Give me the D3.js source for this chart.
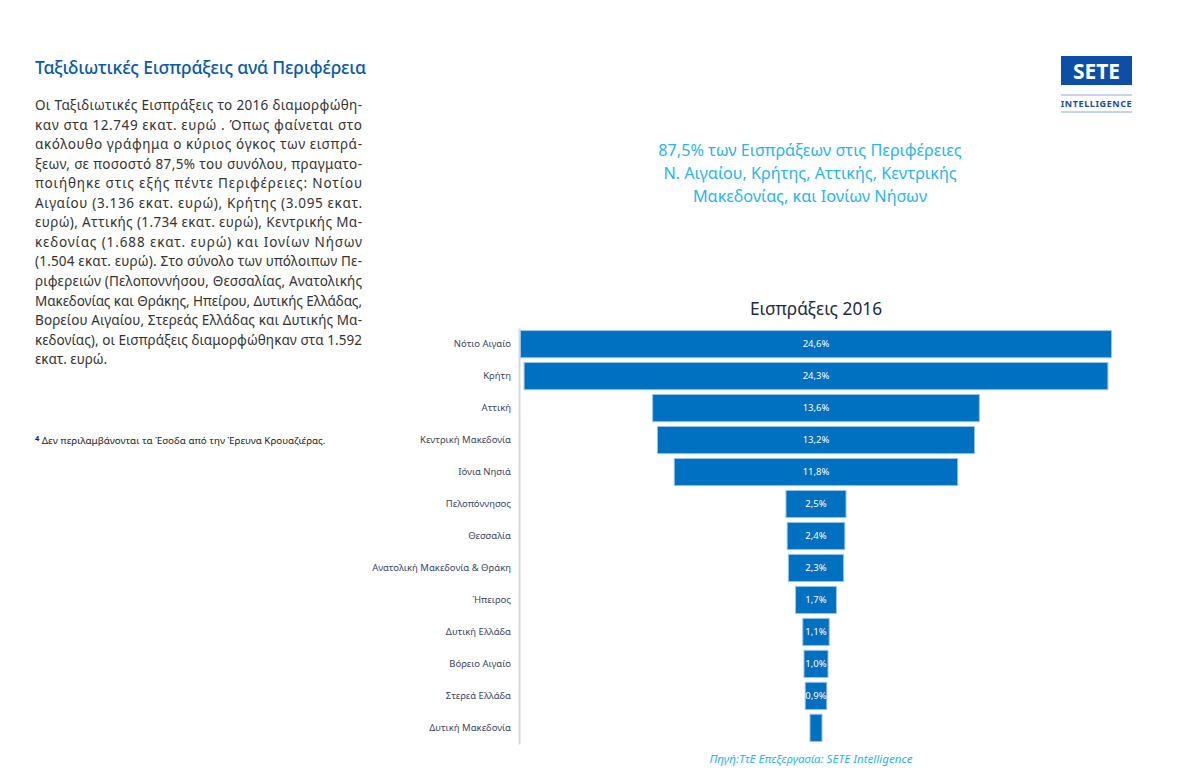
<!DOCTYPE html>
<html lang="el">
<head>
    <meta charset="UTF-8">
    <title>Ταξιδιωτικές Εισπράξεις ανά Περιφέρεια</title>
    <script src="https://d3js.org/d3.v7.min.js"></script>
    <style>
        body { margin: 0; background: #fff; }
        svg { display: block; font-family: "Noto Sans", sans-serif; }
    </style>
</head>
<body>
    <div id="chart"></div>

    <script>
        // Data
        const regions = ["Νότιο Αιγαίο", "Κρήτη", "Αττική", "Κεντρική Μακεδονία", "Ιόνια Νησιά",
            "Πελοπόννησος", "Θεσσαλία", "Ανατολική Μακεδονία & Θράκη", "Ήπειρος", "Δυτική Ελλάδα",
            "Βόρειο Αιγαίο", "Στερεά Ελλάδα", "Δυτική Μακεδονία"];
        const shares = [24.6, 24.3, 13.6, 13.2, 11.8, 2.5, 2.4, 2.3, 1.7, 1.1, 1.0, 0.9, 0.5];
        const shareLabels = ["24,6%", "24,3%", "13,6%", "13,2%", "11,8%", "2,5%", "2,4%", "2,3%",
            "1,7%", "1,1%", "1,0%", "0,9%", ""];

        const paragraph = [
            "Οι Ταξιδιωτικές Εισπράξεις το 2016 διαμορφώθη-",
            "καν στα 12.749 εκατ. ευρώ . Όπως φαίνεται στο",
            "ακόλουθο γράφημα ο κύριος όγκος των εισπρά-",
            "ξεων, σε ποσοστό 87,5% του συνόλου, πραγματο-",
            "ποιήθηκε στις εξής πέντε Περιφέρειες: Νοτίου",
            "Αιγαίου (3.136 εκατ. ευρώ), Κρήτης (3.095 εκατ.",
            "ευρώ), Αττικής (1.734 εκατ. ευρώ), Κεντρικής Μα-",
            "κεδονίας (1.688 εκατ. ευρώ) και Ιονίων Νήσων",
            "(1.504 εκατ. ευρώ). Στο σύνολο των υπόλοιπων Πε-",
            "ριφερειών (Πελοποννήσου, Θεσσαλίας, Ανατολικής",
            "Μακεδονίας και Θράκης, Ηπείρου, Δυτικής Ελλάδας,",
            "Βορείου Αιγαίου, Στερεάς Ελλάδας και Δυτικής Μα-",
            "κεδονίας), οι Εισπράξεις διαμορφώθηκαν στα 1.592",
            "εκατ. ευρώ."
        ];
        const subtitle = [
            "87,5% των Εισπράξεων στις Περιφέρειες",
            "Ν. Αιγαίου, Κρήτης, Αττικής, Κεντρικής",
            "Μακεδονίας, και Ιονίων Νήσων"
        ];

        const W = 1192, H = 772;
        const svg = d3.select("#chart").append("svg")
            .attr("width", W)
            .attr("height", H);

        // Left text column
        svg.append("text")
            .attr("x", 35).attr("y", 74)
            .attr("fill", "#0b5aa8")
            .style("font-size", "17.5px")
            .style("font-weight", "500")
            .attr("textLength", 331)
            .attr("lengthAdjust", "spacing")
            .text("Ταξιδιωτικές Εισπράξεις ανά Περιφέρεια");

        svg.selectAll(".para")
            .data(paragraph)
            .enter().append("text")
            .attr("class", "para")
            .attr("x", 35)
            .attr("y", (d, i) => 110 + i * 19.55)
            .attr("fill", "#333")
            .style("font-size", "13.5px")
            .attr("textLength", (d, i) => i < paragraph.length - 1 ? 327 : null)
            .attr("lengthAdjust", "spacing")
            .text(d => d);

        const note = svg.append("text")
            .attr("x", 35).attr("y", 444)
            .attr("fill", "#222")
            .style("font-size", "9.8px");
        note.append("tspan").attr("dy", "-3").style("font-size", "7.5px").style("font-weight", "bold").text("4");
        note.append("tspan").attr("dy", "3").text(" Δεν περιλαμβάνονται τα Έσοδα από την Έρευνα Κρουαζιέρας.");

        // Logo
        const logo = svg.append("g");
        logo.append("rect")
            .attr("x", 1061).attr("y", 56)
            .attr("width", 71).attr("height", 29)
            .attr("fill", "#0d4ea6");
        logo.append("text")
            .attr("x", 1096.5).attr("y", 79)
            .attr("text-anchor", "middle")
            .attr("fill", "#fff")
            .style("font-size", "21px")
            .style("font-weight", "bold")
            .text("SETE");
        logo.selectAll("line")
            .data([95, 112])
            .enter().append("line")
            .attr("x1", 1061).attr("x2", 1132)
            .attr("y1", d => d).attr("y2", d => d)
            .attr("stroke", "#8aa9d6");
        logo.append("text")
            .attr("x", 1096.5).attr("y", 107)
            .attr("text-anchor", "middle")
            .attr("fill", "#1a4d99")
            .style("font-size", "9px")
            .style("font-weight", "bold")
            .style("letter-spacing", "0.6px")
            .text("INTELLIGENCE");

        // Subtitle
        svg.selectAll(".sub")
            .data(subtitle)
            .enter().append("text")
            .attr("class", "sub")
            .attr("x", 810)
            .attr("y", (d, i) => 156 + i * 23)
            .attr("text-anchor", "middle")
            .attr("fill", "#29b5ee")
            .style("font-size", "16.2px")
            .text(d => d);

        // Funnel chart
        const cx = 816;
        const maxV = d3.max(shares);
        const x = d3.scaleLinear()
            .domain([-maxV / 2, maxV / 2])
            .range([cx - 295.5, cx + 295.5]);

        const y = d3.scaleBand()
            .domain(regions)
            .range([328, 744])
            .paddingInner(0.15)
            .paddingOuter(0.08);

        svg.append("text")
            .attr("x", cx).attr("y", 315)
            .attr("text-anchor", "middle")
            .attr("fill", "#1f2a44")
            .style("font-size", "17.3px")
            .text("Εισπράξεις 2016");

        const axis = svg.append("g")
            .attr("transform", "translate(519,0)")
            .call(d3.axisLeft(y).tickSize(0).tickPadding(8).tickSizeOuter(0));
        axis.select(".domain").attr("stroke", "#d9d9d9").attr("stroke-width", 2);
        axis.selectAll("text")
            .attr("fill", "#3a4566")
            .style("font-size", "9.5px")
            .style("font-family", "'Noto Sans', sans-serif");

        svg.selectAll(".bar")
            .data(regions)
            .enter().append("rect")
            .attr("class", "bar")
            .attr("x", (d, i) => x(-shares[i] / 2))
            .attr("y", d => y(d))
            .attr("width", (d, i) => x(shares[i] / 2) - x(-shares[i] / 2))
            .attr("height", y.bandwidth())
            .attr("fill", "#0070c0")
            .attr("stroke", "#9cc2e8")
            .attr("stroke-width", 1);

        svg.selectAll(".val")
            .data(regions)
            .enter().append("text")
            .attr("class", "val")
            .attr("x", cx)
            .attr("y", d => y(d) + y.bandwidth() / 2)
            .attr("dy", "0.35em")
            .attr("text-anchor", "middle")
            .attr("fill", "#fff")
            .style("font-size", "9.5px")
            .text((d, i) => shareLabels[i]);

        // Source
        svg.append("text")
            .attr("x", 811).attr("y", 763)
            .attr("text-anchor", "middle")
            .attr("fill", "#29b5ee")
            .style("font-size", "11.6px")
            .style("font-style", "italic")
            .text("Πηγή:ΤτΕ Επεξεργασία: SETE Intelligence");
    </script>
</body>
</html>
